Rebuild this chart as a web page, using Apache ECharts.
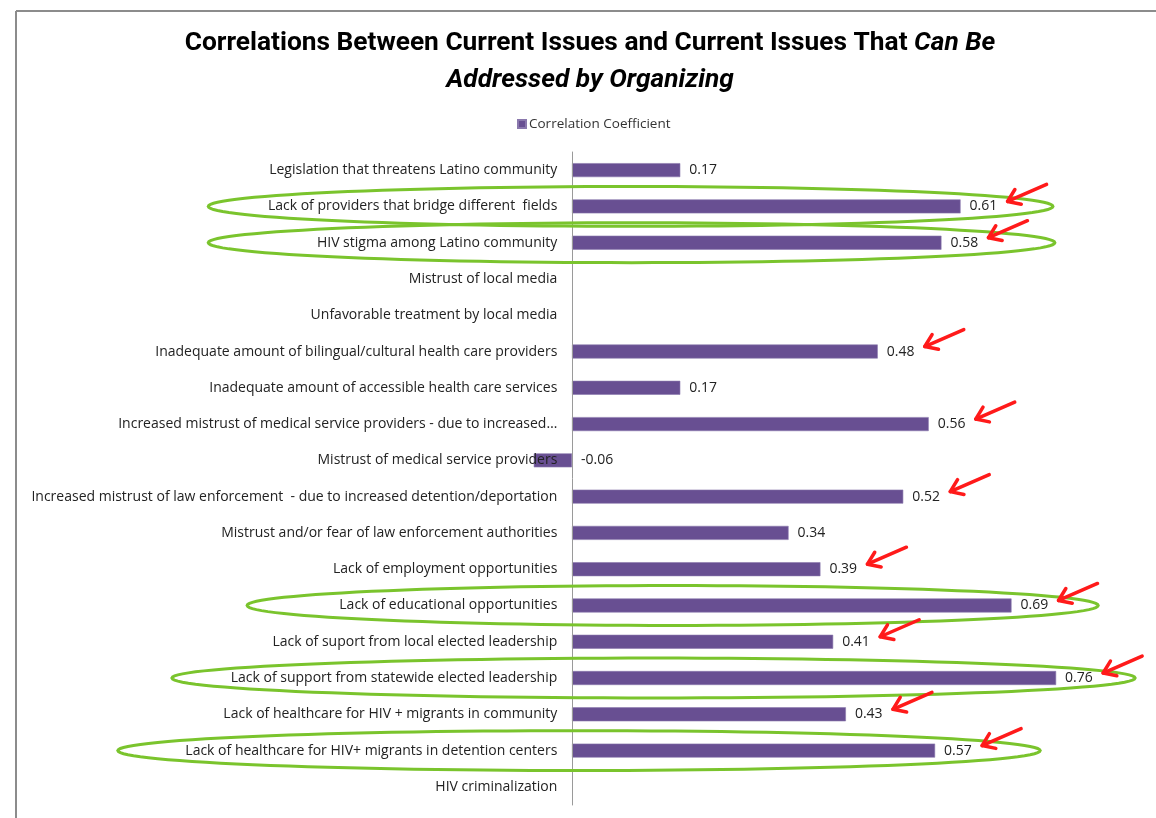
<!DOCTYPE html>
<html><head><meta charset="utf-8">
<script src="https://cdn.jsdelivr.net/npm/echarts@6/dist/echarts.min.js"></script>
<style>html,body{margin:0;padding:0;background:#fff}#c{width:1156px;height:818px}</style>
</head><body><div id="c"></div>
<script>
const categories = [
  'Legislation that threatens Latino community',
  'Lack of providers that bridge different  fields',
  'HIV stigma among Latino community',
  'Mistrust of local media',
  'Unfavorable treatment by local media',
  'Inadequate amount of bilingual/cultural health care providers',
  'Inadequate amount of accessible health care services',
  'Increased mistrust of medical service providers - due to increased…',
  'Mistrust of medical service providers',
  'Increased mistrust of law enforcement  - due to increased detention/deportation',
  'Mistrust and/or fear of law enforcement authorities',
  'Lack of employment opportunities',
  'Lack of educational opportunities',
  'Lack of suport from local elected leadership',
  'Lack of support from statewide elected leadership',
  'Lack of healthcare for HIV + migrants in community',
  'Lack of healthcare for HIV+ migrants in detention centers',
  'HIV criminalization'
];
const values = [0.17, 0.61, 0.58, null, null, 0.48, 0.17, 0.56, -0.06, 0.52, 0.34, 0.39, 0.69, 0.41, 0.76, 0.43, 0.57, null];
const seriesName = 'Correlation Coefficient';
const titleLine1 = 'Correlations Between Current Issues and Current Issues That ';
const titleItalic1 = 'Can Be';
const titleItalic2 = 'Addressed by Organizing';

// annotations (hand-drawn highlights in the original)
const arrowIndices = [1, 2, 5, 7, 9, 11, 12, 13, 14, 15, 16];
const ellipseIndices = [1, 2, 12, 14, 16];
const ellipseLeftValues = [-0.571, -0.571, -0.510, -0.628, -0.713];
const ellipseRightValues = [0.755, 0.758, 0.826, 0.884, 0.735];

const chart = echarts.init(document.getElementById('c'));
const labelFont = 'Open Sans';
const titleFont = 'Roboto';
chart.setOption({
  animation: false,
  backgroundColor: '#fff',
  title: {
    left: 590,
    textAlign: 'center',
    top: 25,
    padding: 0,
    text: '{b|' + titleLine1 + '}{bi|' + titleItalic1 + '}\n{bi|' + titleItalic2 + '}',
    textStyle: {
      rich: {
        b: { fontFamily: titleFont, fontWeight: 'bold', fontSize: 26.3, color: '#000', lineHeight: 37 },
        bi: { fontFamily: titleFont, fontWeight: 'bold', fontStyle: 'italic', fontSize: 26.3, color: '#000', lineHeight: 37 }
      }
    }
  },
  legend: {
    top: 112, left: 512,
    icon: 'rect', itemWidth: 8, itemHeight: 8, itemGap: 5,
    textStyle: { fontFamily: labelFont, fontSize: 13.5, color: '#333', padding: [0, 0, 0, -2] },
    data: [seriesName]
  },
  grid: { left: 508.3, right: 10.7, top: 152, bottom: 13, containLabel: false, outerBoundsMode: 'none' },
  xAxis: {
    type: 'value', min: -0.1, max: 0.9,
    show: false
  },
  yAxis: {
    type: 'category', inverse: true, data: categories, z: 5,
    axisLine: { show: true, onZero: true, lineStyle: { color: '#9a9a9a', width: 1 } },
    axisTick: { show: false },
    axisLabel: { fontFamily: labelFont, fontSize: 14, color: '#222', margin: -49 },
    splitLine: { show: false }
  },
  series: [{
    name: seriesName, type: 'bar', data: values, barWidth: 14,
    itemStyle: { color: '#684f92', borderColor: '#8a78ad', borderWidth: 0.6 },
    label: { show: true, position: 'right', distance: 9, fontFamily: labelFont, fontSize: 14, color: '#222',
      formatter: p => p.value == null ? '' : p.value.toFixed(2) }
  }]
});

// build annotation graphics using the chart's own scales
const g = [];
g.push({ type: 'line', shape: { x1: 16, y1: 11, x2: 1156, y2: 11 }, style: { stroke: '#8c8c8c', lineWidth: 2 }, z: 100 });
g.push({ type: 'line', shape: { x1: 16, y1: 11, x2: 16, y2: 818 }, style: { stroke: '#8c8c8c', lineWidth: 2 }, z: 100 });

const bandPx = chart.convertToPixel({ gridIndex: 0 }, [0, 1])[1] - chart.convertToPixel({ gridIndex: 0 }, [0, 0])[1];
ellipseIndices.forEach((ci, k) => {
  const pl = chart.convertToPixel({ gridIndex: 0 }, [ellipseLeftValues[k], ci]);
  const pr = chart.convertToPixel({ gridIndex: 0 }, [ellipseRightValues[k], ci]);
  const cx = (pl[0] + pr[0]) / 2, cy = pl[1], rx = (pr[0] - pl[0]) / 2, ry = bandPx * 0.55;
  const pts = [];
  for (let i = 0; i < 120; i++) { const t = i / 120 * Math.PI * 2; pts.push([cx + rx * Math.cos(t), cy + ry * Math.sin(t)]); }
  g.push({ type: 'polygon', shape: { points: pts }, style: { fill: 'none', stroke: '#7ac42d', lineWidth: 3 }, z: 100 });
});
arrowIndices.forEach(ci => {
  const p = chart.convertToPixel({ gridIndex: 0 }, [values[ci], ci]);
  const tip = [p[0] + 47, p[1] - 5];
  const tail = [tip[0] + 39, tip[1] - 17];
  const dx = tip[0] - tail[0], dy = tip[1] - tail[1], L = Math.hypot(dx, dy);
  const ux = dx / L, uy = dy / L, hl = 14, a = 35 * Math.PI / 180;
  const b1 = [tip[0] - hl * (ux * Math.cos(a) - uy * Math.sin(a)), tip[1] - hl * (ux * Math.sin(a) + uy * Math.cos(a))];
  const b2 = [tip[0] - hl * (ux * Math.cos(-a) - uy * Math.sin(-a)), tip[1] - hl * (ux * Math.sin(-a) + uy * Math.cos(-a))];
  g.push({ type: 'line', shape: { x1: tail[0], y1: tail[1], x2: tip[0], y2: tip[1] }, style: { stroke: '#ff1a1a', lineWidth: 3.5, lineCap: 'round' }, z: 101 });
  g.push({ type: 'polyline', shape: { points: [b1, tip, b2] }, style: { stroke: '#ff1a1a', fill: 'none', lineWidth: 3.5, lineCap: 'round', lineJoin: 'round' }, z: 101 });
});
chart.setOption({ graphic: g });
</script></body></html>
